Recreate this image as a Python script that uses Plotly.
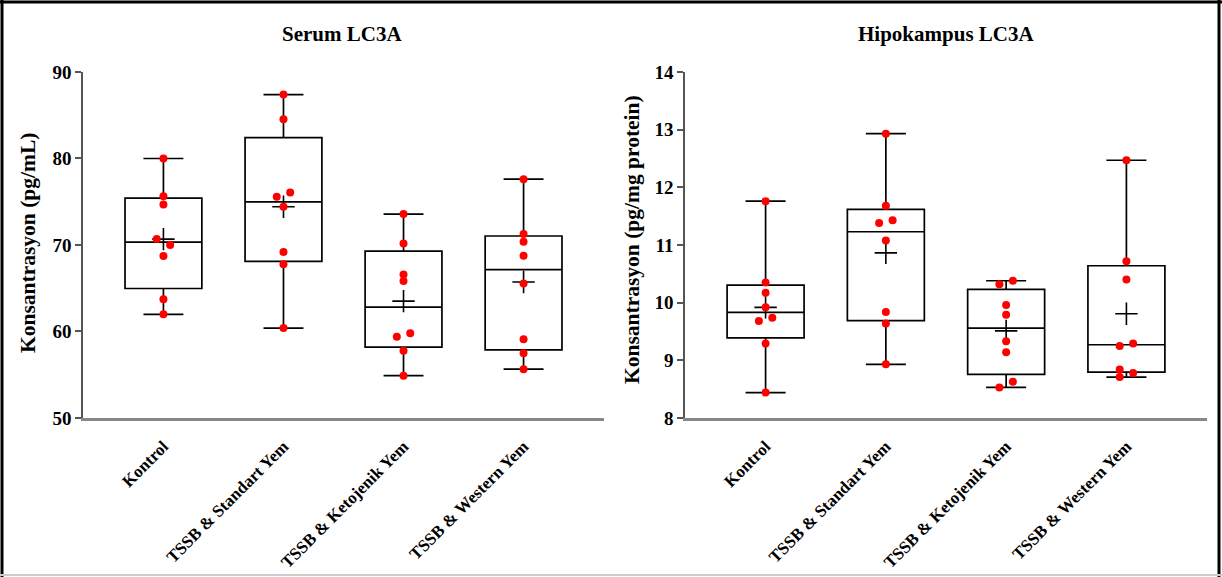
import numpy as np
import plotly.graph_objects as go

categories = ["Kontrol", "TSSB & Standart Yem", "TSSB & Ketojenik Yem", "TSSB & Western Yem"]

# Serum LC3A (pg/mL)
serum_kontrol = [80.0, 75.65, 74.69, 70.68, 69.99, 68.72, 63.72, 61.98]
serum_standart = [87.39, 84.54, 75.57, 76.07, 74.41, 69.18, 67.76, 60.40]
serum_ketojenik = [73.57, 70.18, 66.6, 65.83, 59.40, 59.79, 57.78, 54.89]
serum_western = [77.61, 71.26, 70.37, 68.75, 65.56, 59.1, 57.48, 55.64]

# Hipokampus LC3A (pg/mg protein)
hipo_kontrol = [11.76, 10.35, 10.17, 9.92, 9.68, 9.74, 9.29, 8.44]
hipo_standart = [12.93, 11.68, 11.38, 11.43, 11.08, 9.84, 9.64, 8.93]
hipo_ketojenik = [10.32, 10.38, 9.96, 9.79, 9.33, 9.14, 8.53, 8.63]
hipo_western = [12.47, 10.72, 10.40, 9.25, 9.29, 8.84, 8.78, 8.71]

serum_groups = [serum_kontrol, serum_standart, serum_ketojenik, serum_western]
hipo_groups = [hipo_kontrol, hipo_standart, hipo_ketojenik, hipo_western]

serum_range = [50, 90]
hipo_range = [8, 14]
serum_ticks = [50, 60, 70, 80, 90]
hipo_ticks = [8, 9, 10, 11, 12, 13, 14]

FONT = "Liberation Serif"
W, H = 1222, 577
YDOM = [0.2756, 0.8752]


def dodge(vals, thr, d=0.056):
    """Spread points that would overlap: alternate left/right within a cluster."""
    vals = np.asarray(vals, dtype=float)
    order = np.argsort(-vals, kind="stable")
    offs = np.zeros(len(vals))
    clusters, cur = [], [order[0]]
    for a, b in zip(order[:-1], order[1:]):
        if abs(vals[a] - vals[b]) < thr:
            cur.append(b)
        else:
            clusters.append(cur)
            cur = [b]
    clusters.append(cur)
    for c in clusters:
        if len(c) > 1:
            for k, idx in enumerate(sorted(c)):
                offs[idx] = -d if k % 2 == 0 else d
    return offs


fig = go.Figure()


def add_panel(groups, yr, xa, ya):
    stats = [np.percentile(g, [25, 50, 75], method="weibull") for g in groups]
    fig.add_trace(go.Box(
        x=list(range(len(groups))),
        q1=[s[0] for s in stats], median=[s[1] for s in stats], q3=[s[2] for s in stats],
        lowerfence=[min(g) for g in groups], upperfence=[max(g) for g in groups],
        boxpoints=False, width=0.64, whiskerwidth=0.52,
        line=dict(color="black", width=1.7), fillcolor="rgba(0,0,0,0)",
        xaxis=xa, yaxis=ya, showlegend=False, hoverinfo="skip",
    ))
    fig.add_trace(go.Scatter(
        x=list(range(len(groups))), y=[float(np.mean(g)) for g in groups],
        mode="markers", xaxis=xa, yaxis=ya, showlegend=False,
        marker=dict(symbol="cross-thin", size=16, color="black",
                    line=dict(color="black", width=1.6)),
    ))
    thr = 0.0182 * (yr[1] - yr[0])
    xs, ys = [], []
    for i, g in enumerate(groups):
        offs = dodge(g, thr)
        xs += [i + o for o in offs]
        ys += list(g)
    fig.add_trace(go.Scatter(
        x=xs, y=ys, mode="markers", xaxis=xa, yaxis=ya, showlegend=False,
        marker=dict(size=8, color="#ff0000", line=dict(width=0)),
    ))


add_panel(serum_groups, serum_range, "x", "y")
add_panel(hipo_groups, hipo_range, "x2", "y2")

xcommon = dict(range=[-0.67, 3.67], tickvals=[0, 1, 2, 3], ticktext=categories,
               tickangle=-45, showline=True, linecolor="#888888", linewidth=2.5,
               ticks="", showgrid=False, zeroline=False, ticklabelstandoff=9,
               automargin=False,
               tickfont=dict(family=FONT, size=17, color="black", weight="bold"))
ycommon = dict(showline=True, linecolor="#555555", linewidth=1.5, ticks="outside",
               ticklen=6, tickwidth=1.5, tickcolor="#555555", showgrid=False,
               zeroline=False, domain=YDOM, automargin=False,
               tickfont=dict(family=FONT, size=19, color="black", weight="bold"))

fig.update_layout(
    template="none",
    width=W, height=H, margin=dict(l=0, r=0, t=0, b=0, pad=0), autosize=False,
    paper_bgcolor="white", plot_bgcolor="white",
    xaxis=dict(domain=[83 / W, 604 / W], anchor="y", **xcommon),
    yaxis=dict(range=serum_range, tickvals=serum_ticks, anchor="x", **ycommon),
    xaxis2=dict(domain=[685 / W, 1207 / W], anchor="y2", **xcommon),
    yaxis2=dict(range=hipo_range, tickvals=hipo_ticks, anchor="x2", **ycommon),
)

title_font = dict(family=FONT, size=21, color="black", weight="bold")
axis_font = dict(family=FONT, size=21.5, color="black", weight="bold")
fig.add_annotation(text="Serum LC3A", x=342 / W, y=1 - 34 / H, xref="paper", yref="paper",
                   showarrow=False, font=title_font, xanchor="center", yanchor="middle")
fig.add_annotation(text="Hipokampus LC3A", x=946 / W, y=1 - 34 / H, xref="paper", yref="paper",
                   showarrow=False, font=title_font, xanchor="center", yanchor="middle")
fig.add_annotation(text="Konsantrasyon (pg/mL)", x=28 / W, y=1 - 243 / H, xref="paper",
                   yref="paper", showarrow=False, font=axis_font, textangle=-90,
                   xanchor="center", yanchor="middle")
fig.add_annotation(text="Konsantrasyon (pg/mg protein)", x=632 / W, y=1 - 240 / H,
                   xref="paper", yref="paper", showarrow=False, font=axis_font,
                   textangle=-90, xanchor="center", yanchor="middle")

# image frame
fig.add_shape(type="line", xref="paper", yref="paper", x0=2 / W, x1=2 / W, y0=0, y1=1,
              line=dict(color="black", width=3))
fig.add_shape(type="line", xref="paper", yref="paper", x0=1219 / W, x1=1219 / W, y0=0, y1=1,
              line=dict(color="black", width=3))
fig.add_shape(type="line", xref="paper", yref="paper", x0=0, x1=1, y0=1 - 2 / H, y1=1 - 2 / H,
              line=dict(color="black", width=3))
fig.add_shape(type="line", xref="paper", yref="paper", x0=0, x1=1, y0=2 / H, y1=2 / H,
              line=dict(color="#cccccc", width=2))

fig.write_html("out.html")
